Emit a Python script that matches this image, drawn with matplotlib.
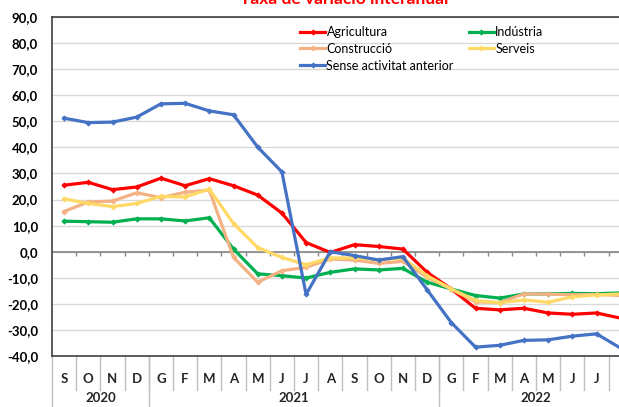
import matplotlib
matplotlib.use("Agg")
import matplotlib.pyplot as plt
import numpy as np

plt.rcParams['font.family'] = ['Lato', 'DejaVu Sans']

months = ["S", "O", "N", "D", "G", "F", "M", "A", "M", "J", "J", "A",
          "S", "O", "N", "D", "G", "F", "M", "A", "M", "J", "J", "A"]
years = ["2020", "2021", "2022"]
year_spans = [(0, 3), (4, 15), (16, 23)]

agricultura = [25.5, 26.6, 23.8, 24.8, 28.2, 25.3, 28.0, 25.3, 21.7, 14.8, 3.5, -0.3,
               2.7, 2.0, 1.0, -7.9, -14.3, -21.7, -22.3, -21.7, -23.5, -24.0, -23.5, -25.5]
industria = [11.7, 11.5, 11.3, 12.6, 12.6, 11.8, 13.0, 1.0, -8.5, -9.2, -10.1, -7.9,
             -6.6, -7.0, -6.4, -11.7, -14.3, -16.8, -17.8, -16.2, -16.2, -16.0, -16.1, -15.8]
construccio = [15.4, 19.1, 19.4, 22.6, 20.7, 22.8, 23.6, -2.2, -11.7, -7.3, -6.0, -2.8,
               -3.2, -4.5, -3.7, -9.8, -14.3, -19.2, -19.5, -16.2, -16.3, -16.5, -16.4, -16.8]
serveis = [20.3, 18.5, 17.3, 18.5, 21.2, 21.0, 24.0, 10.8, 1.6, -2.2, -5.0, -2.4,
           -2.4, -3.1, -2.5, -9.2, -14.3, -18.7, -19.6, -18.5, -19.4, -17.3, -16.6, -16.2]
sense = [51.2, 49.5, 49.7, 51.6, 56.7, 56.9, 54.0, 52.5, 40.1, 30.6, -16.4, 0.0,
         -1.5, -3.2, -1.9, -14.6, -27.2, -36.6, -35.9, -34.0, -33.8, -32.4, -31.5, -37.0]

series = [
    ("Agricultura", agricultura, "#FF0000"),
    ("Indústria", industria, "#00B050"),
    ("Construcció", construccio, "#F4B183"),
    ("Serveis", serveis, "#FFD966"),
    ("Sense activitat anterior", sense, "#4472C4"),
]

W, H = 619, 407
fig = plt.figure(figsize=(W / 100, H / 100), dpi=100)
left_px, top_px, bottom_px = 52, 17, 356
step_px = 24.2
n_span = 25
ax = fig.add_axes([left_px / W, 1 - bottom_px / H, n_span * step_px / W, (bottom_px - top_px) / H])

x = np.arange(len(months))
lines = {}
for name, vals, col in series:
    ln, = ax.plot(x, vals, color=col, lw=2.3, marker='D', markersize=3.2,
                  markeredgewidth=0, label=name, solid_joinstyle='round')
    lines[name] = ln

ax.set_xlim(-0.5, n_span - 0.5)
ax.set_ylim(-40, 90)
ax.set_yticks(np.arange(-40, 91, 10))
ax.set_yticklabels([f"{v:.1f}".replace(".", ",") for v in np.arange(-40, 91, 10)],
                   fontsize=9.5, fontweight='bold')
ax.tick_params(axis='y', length=0, pad=10)
ax.set_xticks([])
ax.grid(axis='y', color='#D9D9D9', lw=1)
ax.set_axisbelow(True)
for s in ax.spines.values():
    s.set_color('#404040')
    s.set_linewidth(1.2)

# zero axis line with tick marks
ax.axhline(0, color='#868686', lw=1.2, zorder=1.5)
ax.vlines(np.arange(len(months)) + 0.5, -1.6, 0, color='#868686', lw=1, zorder=1.5)

# multi-level category labels (only those inside the visible image)
tr = ax.get_xaxis_transform()
ah = bottom_px - top_px
for i, m in enumerate(months):
    if left_px + (i + 0.5) * step_px + 6 > W:
        continue
    ax.text(i, -(379 - bottom_px) / ah, m, transform=tr, ha='center', va='center',
            fontsize=9.5, fontweight='bold', color='#262626', clip_on=False)
for i in range(len(months)):
    ax.plot([i + 0.5, i + 0.5], [0, -(390 - bottom_px) / ah], transform=tr,
            color='#BFBFBF', lw=1, clip_on=False)
for (a, b), yl in zip(year_spans, years):
    ax.text((a + b) / 2, -(398 - bottom_px) / ah, yl, transform=tr, ha='center',
            va='center', fontsize=9.5, fontweight='bold', color='#262626', clip_on=False)
for b in [3.5, 15.5]:
    ax.plot([b, b], [0, -(420 - bottom_px) / ah], transform=tr,
            color='#BFBFBF', lw=1, clip_on=False)
ax.plot([-0.5, -0.5], [0, -(420 - bottom_px) / ah], transform=tr,
        color='#BFBFBF', lw=1, clip_on=False)

order = ["Agricultura", "Construcció", "Sense activitat anterior", "Indústria", "Serveis"]
leg = ax.legend([lines[n] for n in order], order, loc='upper left',
                bbox_to_anchor=(300 / W, 1 - 26 / H), bbox_transform=fig.transFigure,
                ncol=2, frameon=False, fontsize=9, handlelength=2.0,
                handletextpad=0.12, columnspacing=1.2, labelspacing=0.38,
                borderaxespad=0, borderpad=0)

fig.text(344 / W, 1 - 4 / H, "Taxa de variació interanual", color='#FF0000',
         fontsize=12.5, fontweight='bold', ha='center', va='baseline')

fig.savefig("out.png", dpi=100)
